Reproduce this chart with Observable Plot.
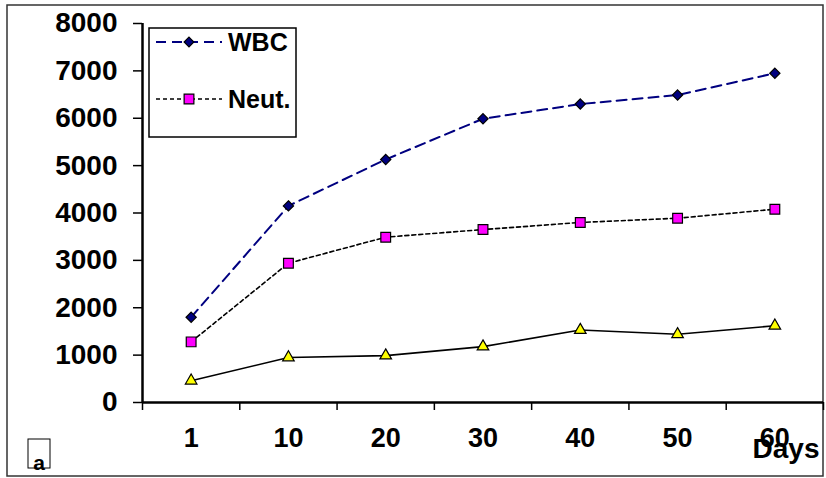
<!DOCTYPE html>
<html>
<head>
<meta charset="utf-8">
<script src="https://cdn.jsdelivr.net/npm/d3@7"></script>
<script src="https://cdn.jsdelivr.net/npm/@observablehq/plot@0.6"></script>
<style>
  html, body { margin: 0; padding: 0; background: #fff; }
  #chart svg { display: block; }
</style>
</head>
<body>
<div id="chart"></div>
<script>
// ---- data ----
const days = ["1", "10", "20", "30", "40", "50", "60"];
const wbc = [1800, 4150, 5130, 5990, 6300, 6490, 6950];
const neut = [1280, 2940, 3490, 3650, 3800, 3890, 4080];
const third = [460, 950, 990, 1180, 1530, 1440, 1620];
const yTicks = [0, 1000, 2000, 3000, 4000, 5000, 6000, 7000, 8000];
const seriesNames = ["WBC", "Neut.", ""];
const xLabel = "Days";
const panelLabel = "a";

const rows = [];
[wbc, neut, third].forEach((arr, s) => arr.forEach((v, i) => rows.push({s, i: i + 0.5, v})));
const pick = s => rows.filter(d => d.s === s);

const FONT = "'Liberation Sans', Arial, Helvetica, sans-serif";

const chart = Plot.plot({
  width: 826,
  height: 478,
  marginLeft: 142,
  marginRight: 3,
  marginTop: 23,
  marginBottom: 76,
  style: {fontFamily: FONT, background: "#fff", color: "#000"},
  x: {type: "linear", domain: [0, days.length], axis: null},
  y: {domain: [0, 8000], axis: null},
  marks: [
    Plot.axisY({ticks: yTicks, tickSize: 9, tickPadding: 16, tickFormat: d => String(d),
      fontSize: 28, fontWeight: "bold", fontFamily: FONT, strokeWidth: 1.5, label: null}),
    Plot.axisX({ticks: d3.range(days.length + 1), tickSize: 8, tickFormat: () => "", strokeWidth: 1.5, label: null}),
    Plot.axisX({ticks: days.map((d, i) => i + 0.5), tickSize: 0, tickPadding: 25,
      tickFormat: v => days[Math.floor(v)], fontSize: 27, fontWeight: "bold", fontFamily: FONT, label: null}),
    Plot.ruleX([0], {y1: 0, y2: 8000, stroke: "#000", strokeWidth: 2.5}),
    Plot.ruleY([0], {stroke: "#000", strokeWidth: 2.5}),
    Plot.text([xLabel], {frameAnchor: "bottom-right", dx: -4, dy: 55, text: d => d, textAnchor: "end",
      fontSize: 28, fontWeight: "bold", fontFamily: FONT, fill: "#000"}),
    // lines
    Plot.line(pick(2), {x: "i", y: "v", stroke: "#000", strokeWidth: 1.6}),
    Plot.line(pick(1), {x: "i", y: "v", stroke: "#000", strokeWidth: 1.6, strokeDasharray: "4,3"}),
    Plot.line(pick(0), {x: "i", y: "v", stroke: "#000080", strokeWidth: 2, strokeDasharray: "10,6"}),
    // markers
    Plot.dot(pick(2), {x: "i", y: "v", symbol: "triangle", r: 4.3, fill: "#ffff00", stroke: "#000", strokeWidth: 1.2}),
    Plot.dot(pick(1), {x: "i", y: "v", symbol: "square", r: 5.5, fill: "#ff00ff", stroke: "#000", strokeWidth: 1.2}),
    Plot.dot(pick(0), {x: "i", y: "v", symbol: "diamond2", r: 4.6, fill: "#000080", stroke: "#000", strokeWidth: 1.2})
  ]
});

document.getElementById("chart").appendChild(chart);

// ---- decorations: outer frame, legend box, panel label ----
const svg = d3.select(chart.tagName.toLowerCase() === "svg" ? chart : chart.querySelector("svg"));
svg.insert("rect", ":first-child")
  .attr("x", 7).attr("y", 5).attr("width", 816).attr("height", 471)
  .attr("fill", "none").attr("stroke", "#333").attr("stroke-width", 1.5);

const lg = svg.append("g");
lg.append("rect").attr("x", 149).attr("y", 28).attr("width", 147).attr("height", 109)
  .attr("fill", "#fff").attr("stroke", "#000").attr("stroke-width", 1.5);
const legendItems = [
  {name: seriesNames[0], y: 42, stroke: "#000080", dash: "10,6", w: 2, sym: d3.symbolDiamond2, size: 60, fill: "#000080"},
  {name: seriesNames[1], y: 99, stroke: "#000", dash: "4,3", w: 1.6, sym: d3.symbolSquare, size: 95, fill: "#ff00ff"}
];
legendItems.forEach(it => {
  lg.append("line").attr("x1", 156).attr("x2", 222).attr("y1", it.y).attr("y2", it.y)
    .attr("stroke", it.stroke).attr("stroke-width", it.w).attr("stroke-dasharray", it.dash);
  lg.append("path").attr("d", d3.symbol(it.sym, it.size)())
    .attr("transform", `translate(189,${it.y})`)
    .attr("fill", it.fill).attr("stroke", "#000").attr("stroke-width", 1.2);
  lg.append("text").attr("x", 228).attr("y", it.y).attr("dy", "0.36em")
    .attr("text-anchor", "start")
    .attr("font-family", FONT).attr("font-weight", "bold").attr("font-size", 25)
    .attr("fill", "#000").text(it.name);
});

svg.append("rect").attr("x", 28).attr("y", 439).attr("width", 22).attr("height", 29)
  .attr("fill", "none").attr("stroke", "#000").attr("stroke-width", 1);
svg.append("text").attr("x", 39).attr("y", 470).attr("text-anchor", "middle")
  .attr("font-family", FONT).attr("font-weight", "bold").attr("font-size", 21)
  .attr("fill", "#000").text(panelLabel);
</script>
</body>
</html>
